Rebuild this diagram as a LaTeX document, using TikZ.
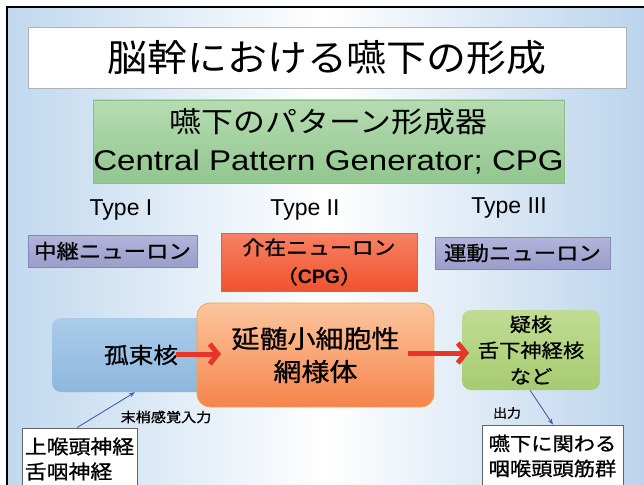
\documentclass[tikz,border=0pt]{standalone}
\usepackage{fontspec}
\setmainfont{Noto Sans CJK JP}[FakeStretch=1.12]
\newfontfamily\jpb{Noto Sans CJK JP}[FakeStretch=1.12, FakeBold=0.9]
\newfontfamily\jptitle{Noto Sans CJK JP}[FakeStretch=1.08]
\newfontfamily\lat{Liberation Sans}
\newfontfamily\latwide{Liberation Sans}[FakeStretch=1.16]
\usetikzlibrary{arrows.meta,shadings}
\definecolor{bgblue}{HTML}{C0D8EE}
\definecolor{bgblueR}{HTML}{BBD4EC}
\definecolor{redarrow}{HTML}{E8352B}
\definecolor{thinblue}{HTML}{4660B0}
\tikzset{
  plainbox/.style={rectangle, inner sep=0pt, align=center},
  titlebox/.style={plainbox, draw=gray!60, fill=white, line width=0.6pt},
  cpgbox/.style={plainbox, top color={rgb,255:red,182;green,220;blue,178}, bottom color={rgb,255:red,145;green,198;blue,142}, draw={rgb,255:red,140;green,190;blue,136}, line width=0.4pt},
  typelabel/.style={inner sep=0pt, font={\lat\fontsize{23}{26}\selectfont}},
  purplebox/.style={plainbox, top color={rgb,255:red,178;green,180;blue,219}, bottom color={rgb,255:red,155;green,157;blue,203}, draw={rgb,255:red,132;green,134;blue,188}, line width=0.5pt, font={\jpb\fontsize{20}{25}\selectfont}},
  redbox/.style={plainbox, top color={rgb,255:red,246;green,130;blue,100}, bottom color={rgb,255:red,241;green,82;blue,46}, draw={rgb,255:red,225;green,95;blue,60}, line width=0.5pt},
  bluebox/.style={plainbox, rounded corners=9pt, top color={rgb,255:red,170;green,204;blue,234}, bottom color={rgb,255:red,142;green,183;blue,222}},
  orangebox/.style={plainbox, rounded corners=13pt, top color={rgb,255:red,252;green,198;blue,158}, bottom color={rgb,255:red,246;green,132;blue,76}, draw={rgb,255:red,244;green,165;blue,70}, line width=0.8pt},
  nucbox/.style={plainbox, rounded corners=9pt, top color={rgb,255:red,192;green,220;blue,146}, bottom color={rgb,255:red,166;green,203;blue,112}},
  whitebox/.style={plainbox, draw={rgb,255:red,100;green,100;blue,100}, fill=white, line width=0.8pt},
  redarr/.style={draw=redarrow, line width=5pt, -{Straight Barb[length=8pt,width=20pt]}},
  thinarr/.style={draw=thinblue, line width=0.9pt, -{Stealth[length=6pt,width=4.5pt]}},
  smalllabel/.style={inner sep=0pt}
}
\begin{document}
\begin{tikzpicture}[x=1pt,y=-1pt]
\useasboundingbox (0,0) rectangle (644,484);
% page background and slide background
\fill[white] (0,0) rectangle (644,484);
\shade[left color=bgblue, right color=bgblueR, middle color=white] (7,7) rectangle (644,484);
\draw[black, line width=2.6pt] (7,490) -- (7,7) -- (650,7);
% title
\node[titlebox, minimum width=598pt, minimum height=61pt, font={\jptitle\fontsize{37}{44}\selectfont}] (title) at (327,57.5) {脳幹における嚥下の形成};
% CPG box
\node[cpgbox, minimum width=471pt, minimum height=83pt, font={\fontsize{28.5}{38}\selectfont}] (cpg) at (328.5,141.5) {嚥下のパターン形成器\\{\latwide Central Pattern Generator; CPG}};
% type labels
\node[typelabel] (t1) at (121,210) {Type I};
\node[typelabel] (t2) at (305,210) {Type II};
\node[typelabel] (t3) at (509,208) {Type III};
% neuron boxes
\node[purplebox, minimum width=169pt, minimum height=32pt] (relay) at (112.5,251) {中継ニューロン};
\node[redbox, minimum width=196pt, minimum height=58pt, font={\jpb\fontsize{19.5}{29}\selectfont}] (inter) at (319,262) {介在ニューロン\\（{\lat\bfseries CPG}）};
\node[purplebox, minimum width=175pt, minimum height=32pt] (motor) at (522.5,253) {運動ニューロン};
% main row
\node[bluebox, minimum width=178pt, minimum height=74pt, font={\jpb\fontsize{22}{27}\selectfont}] (nts) at (141,355) {孤束核};
\node[orangebox, minimum width=237pt, minimum height=104pt, font={\jpb\fontsize{25}{33}\selectfont}] (rf) at (315.5,355) {延髄小細胞性\\網様体};
\node[nucbox, minimum width=138pt, minimum height=80pt, font={\jpb\fontsize{19}{26}\selectfont}] (nuc) at (531,350) {疑核\\舌下神経核\\など};
% bottom boxes
\node[whitebox, minimum width=115pt, minimum height=62pt, font={\jpb\fontsize{19.5}{25}\selectfont}, align=left] (inp) at (79.5,459) {上喉頭神経\\舌咽神経};
\node[whitebox, minimum width=141pt, minimum height=62pt, font={\jpb\fontsize{19}{25}\selectfont}] (outp) at (552.5,456) {嚥下に関わる\\咽喉頭頭筋群};
% labels
\node[smalllabel, font={\jpb\fontsize{13.5}{16}\selectfont}] (lin) at (166,417) {末梢感覚入力};
\node[smalllabel, font={\jpb\fontsize{12.5}{16}\selectfont}] (lout) at (507,413) {出力};
% connectors
\coordinate (r1s) at (176,354);
\coordinate (r1e) at (221,354);
\coordinate (r2s) at (408,353);
\coordinate (r2e) at (469,353);
\draw[redarr] (r1s) -- (r1e);
\draw[redarr] (r2s) -- (r2e);
\draw[thinarr] ([xshift=-2.5pt]inp.north) -- ([xshift=-6pt]nts.south);
\draw[thinarr] ([xshift=-1pt]nuc.south) -- ([xshift=0.5pt]outp.north);
\end{tikzpicture}
\end{document}
